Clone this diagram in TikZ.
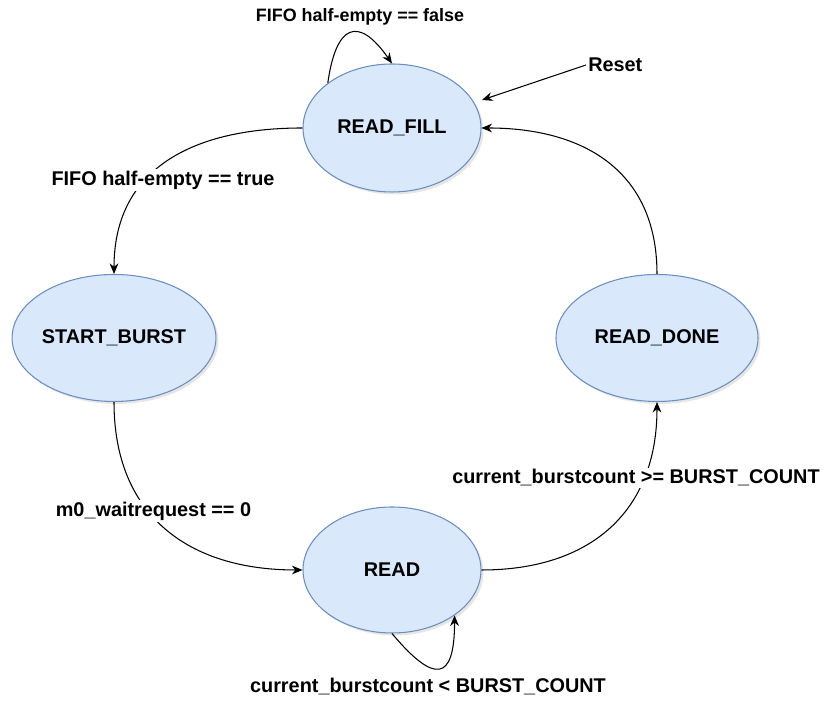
\documentclass[tikz,border=0pt]{standalone}
\usepackage{fontspec}
\setmainfont{Liberation Sans}
\usetikzlibrary{shapes, arrows.meta, positioning, shadows}

\definecolor{stfill}{HTML}{DAE8FC}
\definecolor{stline}{HTML}{6C8EBF}
\tikzset{
	st/.style={ellipse, draw=stline, fill=stfill, line width=0.6pt,
		minimum width=3.56cm, minimum height=2.56cm, inner sep=0pt,
		font=\fontsize{11.3}{13}\selectfont\bfseries,
		drop shadow={shadow xshift=0.05cm, shadow yshift=-0.05cm, opacity=0.2}},
	wide/.style={minimum width=4.04cm, minimum height=2.54cm},
	lbl/.style={fill=white, inner sep=1pt, font=\fontsize{11.3}{13}\selectfont\bfseries},
	small/.style={font=\fontsize{10.2}{12}\selectfont\bfseries}
}

\begin{document}
\begin{tikzpicture}[>={Stealth[length=6pt,width=5pt]}, line width=0.6pt]
			\useasboundingbox (0,0) rectangle (16.56,14.04);
			\node[st] (fill) at (7.84,11.48) {READ\_FILL};
			\node[st, wide] (burst) at (2.28,7.28) {START\_BURST};
			\node[st, wide] (done) at (13.14,7.28) {READ\_DONE};
			\node[st, minimum height=2.52cm] (read) at (7.84,2.64) {READ};
			\node[lbl, anchor=west] (reset) at (11.72,12.74) {Reset};
			\coordinate (tip) at (9.64,12.04);
			\path[->]
				(fill.145) edge [out=82, in=125, looseness=2.25] (fill.north)
				(fill.west) edge [out=180, in=90, looseness=1.15] (burst.north)
				(burst.south) edge [out=-90, in=180, looseness=1.15] (read.west)
				(read.south) edge [out=-50, in=-90, looseness=2.6] (read.-36)
				(read.east) edge [out=0, in=-90, looseness=1.15] (done.south)
				(done.north) edge [out=90, in=0, looseness=1.15] (fill.east)
				(reset.west) edge (tip);
			\node[lbl, small] (lfalse) at (7.2,13.70) {FIFO half-empty == false};
			\node[lbl] (ltrue) at (3.26,10.44) {FIFO half-empty == true};
			\node[lbl] (lwait) at (3.07,3.82) {m0\_waitrequest == 0};
			\node[lbl] (lge) at (12.72,4.48) {current\_burstcount >= BURST\_COUNT};
			\node[lbl] (llt) at (8.56,0.30) {current\_burstcount < BURST\_COUNT};
		\end{tikzpicture}
\end{document}
